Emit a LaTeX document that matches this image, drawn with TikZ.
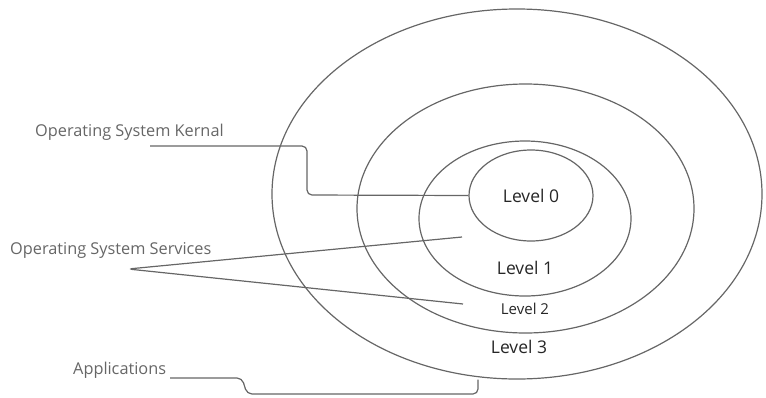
\documentclass[tikz,border=0pt]{standalone}
\usepackage{fontspec}
\setmainfont{Open Sans}
\usetikzlibrary{positioning,shapes.geometric}

\begin{document}
\begin{tikzpicture}[
    x=1pt,   % one unit = one pixel of the layout
    y=-1pt,  % y runs downwards
    ring/.style={draw=black!60, line width=1.2pt, ellipse, inner sep=0pt},
    lvl/.style={text=black!85, font=\fontsize{17.5}{20}\selectfont},
    lab/.style={text=black!60, font=\fontsize{16.3}{18}\selectfont, inner sep=0pt, anchor=west},
    lead/.style={draw=black!60, line width=1.2pt, rounded corners=5pt}
]
    \useasboundingbox (0,0) rectangle (766,397);

    % rings, outside in
    \node[ring, minimum width=490, minimum height=370] (app) at (517,194) {};
    \node[ring, minimum width=337, minimum height=249] (srvb) at (525.5,208.5) {};
    \node[ring, minimum width=212, minimum height=155] (srva) at (525,218.5) {};
    \node[ring, minimum width=124, minimum height=91, lvl] (core) at (531,195.5) {Level 0};

    % level names
    \node[lvl] (lvla) at (525,268) {Level 1};
    \node[lvl, font=\fontsize{15}{17}\selectfont] (lvlb) at (525,309) {Level 2};
    \node[lvl] (lvlc) at (519,347) {Level 3};

    % labels on the left
    \node[lab] (kern) at (35,132) {Operating System Kernal};
    \node[lab] (serv) at (10,250) {Operating System Services};
    \node[lab] (apps) at (73,370) {Applications};

    % leader lines
    \coordinate (kstart) at (150,146);
    \draw[lead] (kstart) -- (307,146) -- (307,195) -- (core.west);

    \coordinate (sapex) at (128,269);
    \coordinate (sa) at (462,237);
    \coordinate (sb) at (463,304);
    \draw[lead] (sa) -- (sapex) -- (sb);

    \coordinate (astart) at (170,378);
    \coordinate (aend) at (app.south -| 478,0);
    \draw[lead] (astart) -- (242,378) -- (247,394) -- (478,394) -- (aend);
\end{tikzpicture}
\end{document}
